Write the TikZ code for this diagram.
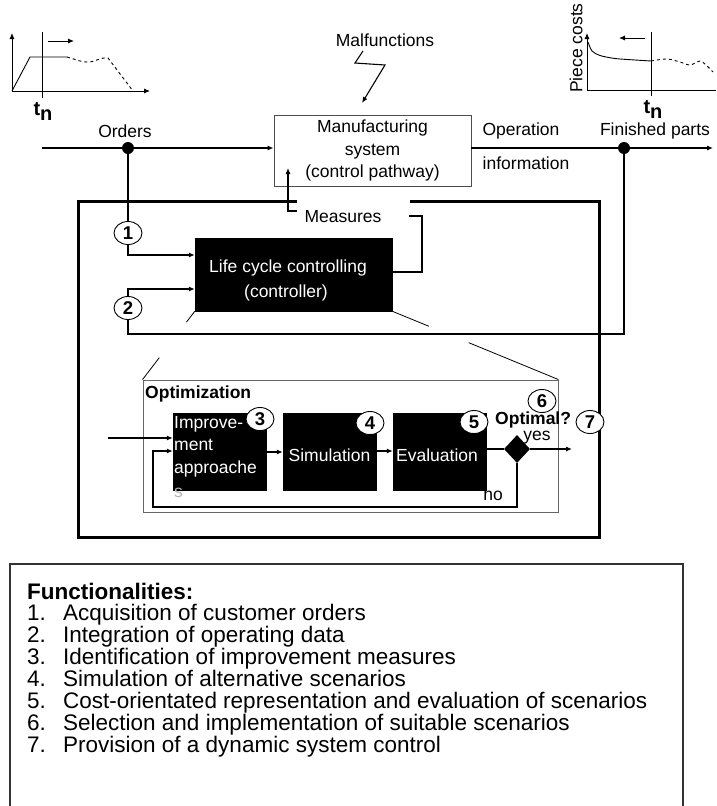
\documentclass[tikz,border=0pt]{standalone}
\usepackage{fontspec}
\setmainfont{Liberation Sans}
\usetikzlibrary{arrows.meta,calc,shapes.geometric}
\begin{document}
\begin{tikzpicture}[x=1pt,y=-1pt,
  lbl/.style={font=\fontsize{17.5}{22.5}\selectfont, inner sep=0pt},
  bl/.style={font=\fontsize{17.5}{22.5}\selectfont\bfseries, inner sep=0pt},
  ln/.style={line width=1.1pt},
  tip/.style={-{Latex[length=6pt,width=5pt]}},
  arr/.style={ln,tip},
  thin/.style={line width=0.9pt},
  blackbox/.style={fill=black, draw=black, inner sep=0pt},
  num/.style={ellipse, draw, fill=white, line width=0.9pt, minimum width=28pt,
    minimum height=23pt, inner sep=0pt, font=\fontsize{18.5}{18.5}\selectfont\bfseries},
  dot/.style={circle, fill=black, minimum size=12pt, inner sep=0pt},
  item/.style={anchor=base west, inner sep=0pt, font=\fontsize{22.5}{22}\selectfont},
]
\useasboundingbox (0,0) rectangle (716,806);

% ---- order volume over time ----
\draw[thin,tip] (12,91) -- (12,33);
\draw[thin,tip] (12,91) -- (150,91);
\draw[thin] (42,32) -- (42,98);
\draw[thin,tip] (48,41) -- (74,41);
\draw[thin] (12,91) -- (30,57) -- (67,57);
\draw[thin,dashed] (67,57) .. controls (78,60) and (80,62) .. (88,62)
  .. controls (96,62) and (100,57) .. (108,58) -- (133,91);
\node[font=\fontsize{20}{20}\selectfont\bfseries, inner sep=0pt] (tnl) at (43,111)
  {t\raisebox{-5pt}{n}};

% ---- piece costs over time ----
\draw[thin,tip] (587,90) -- (587,33);
\draw[thin] (587,90) -- (716,90);
\draw[thin] (651,32) -- (651,96);
\draw[thin,tip] (645,38) -- (619,38);
\draw[thin] plot[smooth] coordinates {(588,42) (592,51) (600,55.5) (615,58.5) (635,60) (651,61)};
\draw[thin,dashed] plot[smooth] coordinates {(651,61) (667,59) (680,62) (690,65) (700,61) (706,65) (713,72)};
\node[lbl, rotate=90] (pc) at (576,48) {Piece costs};
\node[font=\fontsize{20}{20}\selectfont\bfseries, inner sep=0pt] (tnr) at (653,109)
  {t\raisebox{-5pt}{n}};

% ---- manufacturing system ----
\node[lbl, draw=black!70, line width=0.9pt, minimum width=197pt, minimum height=71pt,
  align=center] (mfg) at (372.5,150.5) {Manufacturing\\system\\(control pathway)};
\node[lbl] (malf) at (385,40) {Malfunctions};
\coordinate (z1) at (363,51);
\coordinate (z2) at (355,63);
\coordinate (z3) at (385,65);
\coordinate (z4) at (362,103);
\draw[ln,-{Latex[length=6pt,width=5pt]}] (z1) -- (z2) -- (z3) -- (z4);

% main flow
\coordinate (in) at (42,148);
\node[dot] (od) at (128,148) {};
\node[dot] (fd) at (624,148) {};
\coordinate (out) at (713,148);
\draw[ln] (in) -- (od);
\draw[arr] (od) -- (mfg.west |- od);
\draw[ln] (mfg.east |- fd) -- (fd);
\draw[arr] (fd) -- (out);
\node[lbl] (orders) at (125,131) {Orders};
\node[lbl] (oper) at (521,131) {Operation};
\node[lbl] (info) at (526,163) {information};
\node[lbl] (fin) at (655,131) {Finished parts};

% ---- control loop frame ----
\draw[line width=3pt] (297,201) -- (78,201) -- (78,537) -- (599,537) -- (599,201) -- (410,201);

% controller
\node[blackbox, minimum width=197pt, minimum height=73pt] (ctrl) at (293.5,274.5) {};
\node[lbl, text=white] (ctxt1) at (288,268) {Life cycle controlling};
\node[lbl, text=white] (ctxt2) at (286,293) {(controller)};

% measures back into the manufacturing system
\node[lbl] (meas) at (343,217) {Measures};
\coordinate (mL) at (297,211);
\coordinate (mT) at (288,168);
\draw[arr] (mL) -| (mT);
\coordinate (mR) at (409,216);
\coordinate (mC) at (422,216);
\draw[ln] (mR) -- (mC) |- (ctrl.east |- 0,272);

% inputs 1 and 2
\node[num] (n1) at (128,233) {1};
\node[num] (n2) at (128,308) {2};
\draw[ln] (od) -- (n1);
\draw[arr] (n1) |- (ctrl.west |- 0,255);
\coordinate (c2) at (128,334);
\draw[ln] (fd) |- (c2) -- (n2);
\draw[arr] (n2) |- (ctrl.west |- 0,289);

% ---- optimization detail ----
\node[draw=black!60, thin, minimum width=415pt, minimum height=132pt, inner sep=0pt]
  (opt) at (350.5,446) {};
\draw[line width=0.8pt] (ctrl.south west) -- ($(ctrl.south west)!0.16!(opt.north west)$);
\draw[line width=0.8pt] ($(ctrl.south west)!0.68!(opt.north west)$) -- (opt.north west);
\draw[line width=0.8pt] (ctrl.south east) -- ($(ctrl.south east)!0.22!(opt.north east)$);
\draw[line width=0.8pt] ($(ctrl.south east)!0.46!(opt.north east)$) -- (opt.north east);
\node[bl, anchor=west] (optl) at (145,394) {Optimization};

\node[blackbox, minimum width=93pt, minimum height=77pt] (imp) at (219.5,451.5) {};
\node[blackbox, minimum width=93pt, minimum height=77pt] (sim) at (329.5,451.5) {};
\node[blackbox, minimum width=93pt, minimum height=77pt] (eva) at (439.5,451.5) {};
\node[lbl, text=white, anchor=north west, align=left] (imptxt) at (174,416)
  {Improve-\\ment\\approache};
\node[lbl, text=black!30, anchor=west] (imps) at (174,493) {s};
\node[lbl, text=white] (simtxt) at (329.5,455) {Simulation};
\node[lbl, text=white] (evatxt) at (437,455) {Evaluation};

\node[diamond, fill=black, minimum width=26pt, minimum height=28pt, inner sep=0pt]
  (dia) at (517,449) {};

\coordinate (oin) at (108,438);
\draw[arr] (oin) -- (imp.west |- oin);
\draw[arr] (imp.east |- 0,452) -- (sim.west |- 0,452);
\draw[arr] (sim.east |- 0,451) -- (eva.west |- 0,451);
\draw[ln] (eva.east |- dia) -- (dia.west);
\coordinate (yesout) at (572,449);
\draw[arr] (dia.east) -- (yesout);
\coordinate (lb) at (153,507);
\draw[arr] (dia.south) |- (lb) |- (imp.west |- 0,451);

\node[bl, anchor=west] (optq) at (495,420) {Optimal?};
\node[lbl] (yes) at (537,438) {yes};
\node[lbl] (no) at (493,496) {no};

\node[num] (n3) at (260,419) {3};
\node[num] (n4) at (370,423) {4};
\node[num] (n5) at (474,422) {5};
\node[num] (n6) at (542,401) {6};
\node[num] (n7) at (590,422) {7};

% ---- list of functionalities ----
\draw[line width=1.2pt, draw=black!80] (10,806) -- (10,564) -- (683,564) -- (683,806);
\node[item, font=\fontsize{22.5}{22}\selectfont\bfseries] (fhead) at (27,599) {Functionalities:};
\foreach \i/\t in {1/Acquisition of customer orders,
                   2/Integration of operating data,
                   3/Identification of improvement measures,
                   4/Simulation of alternative scenarios,
                   5/Cost-orientated representation and evaluation of scenarios,
                   6/Selection and implementation of suitable scenarios,
                   7/Provision of a dynamic system control} {
  \node[item] (fn\i) at (27,{620+22*(\i-1)}) {\i.};
  \node[item] (ft\i) at (63,{620+22*(\i-1)}) {\t};
}
\end{tikzpicture}
\end{document}
